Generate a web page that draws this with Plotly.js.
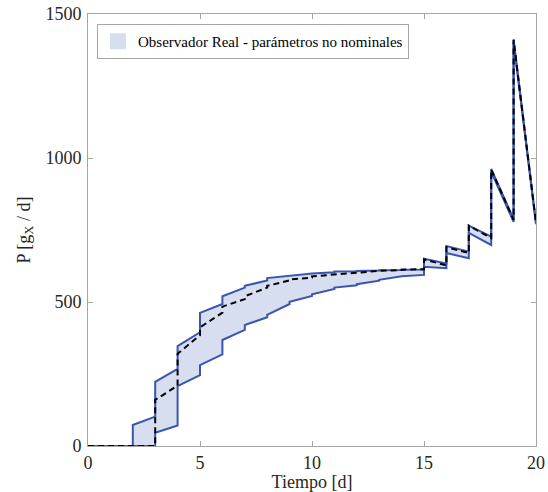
<!DOCTYPE html>
<html>
<head>
<meta charset="utf-8">
<script src="https://cdn.plot.ly/plotly-3.0.1.min.js"></script>
<style>html,body{margin:0;padding:0;background:#fff;}#chart{width:548px;height:492px;}</style>
</head>
<body>
<div id="chart"></div>
<script>
// Time points (duplicated at each day to draw the jumps)
const tiempo = [0, 2, 2, 3, 3, 4, 4, 5, 5, 6, 6, 7, 7, 8, 8, 9, 9, 10, 10, 11, 11, 12, 12, 13, 13, 14, 14, 15, 15, 16, 16, 17, 17, 18, 18, 19, 19, 20];
// Upper bound (real observer, non-nominal parameters)
const superior = [0, 0, 73, 102, 223, 268, 347, 395, 462, 493, 520, 550, 556, 575, 583, 590, 592, 597, 599, 603, 606, 607, 608, 609, 610, 611, 612, 613, 650, 634, 694, 675, 765, 727, 962, 788, 1412, 775];
// Lower bound
const inferior = [0, 0, 0, 0, 46, 71, 208, 246, 281, 318, 368, 403, 420, 447, 455, 493, 501, 521, 527, 545, 550, 558, 562, 574, 577, 588, 589, 594, 622, 617, 670, 652, 740, 698, 952, 778, 1402, 770];
// Nominal (dashed)
const nominal = [0, 0, 0, 0, 160, 210, 320, 385, 412, 463, 484, 510, 520, 550, 556, 575, 578, 585, 589, 595, 597, 601, 603, 607, 608, 611, 612, 614, 648, 627, 690, 670, 765, 722, 960, 785, 1410, 775];
const nombreLeyenda = 'Observador Real - parámetros no nominales';

const azul = '#3b55b0';
const relleno = 'rgb(214,222,240)';

const bandaX = tiempo.concat(tiempo.slice().reverse());
const bandaY = superior.concat(inferior.slice().reverse());

const traces = [
  {x: bandaX, y: bandaY, type: 'scatter', mode: 'lines', fill: 'toself', fillcolor: relleno,
   line: {width: 0, color: relleno}, showlegend: false, hoverinfo: 'skip'},
  {x: tiempo, y: superior, type: 'scatter', mode: 'lines', line: {color: azul, width: 2}, showlegend: false},
  {x: tiempo, y: inferior, type: 'scatter', mode: 'lines', line: {color: azul, width: 2}, showlegend: false},
  {x: tiempo, y: nominal, type: 'scatter', mode: 'lines', line: {color: '#000', width: 2, dash: '6px,4px'}, showlegend: false},
  // legend entry for the shaded band
  {x: [null], y: [null], type: 'scatter', mode: 'markers', name: nombreLeyenda,
   marker: {symbol: 'square', size: 16, color: relleno, line: {width: 0}}, showlegend: true}
];

const fontFam = '"Liberation Serif", "Times New Roman", serif';
const axisBase = {
  showline: true, mirror: 'ticks', linecolor: '#a6a6a6', linewidth: 1,
  ticks: 'inside', ticklen: 5, tickcolor: '#a6a6a6', showgrid: false, zeroline: false,
  tickfont: {family: fontFam, size: 18, color: '#262626'}
};

const layout = {
  width: 548, height: 492,
  margin: {l: 88, r: 12, t: 14, b: 46},
  paper_bgcolor: '#fff', plot_bgcolor: '#fff',
  showlegend: true,
  legend: {x: 0.02, y: 0.977, xanchor: 'left', yanchor: 'top', bgcolor: '#fff',
           bordercolor: '#a6a6a6', borderwidth: 1, itemwidth: 30,
           font: {family: fontFam, size: 15, color: '#000'}},
  xaxis: Object.assign({}, axisBase, {range: [0, 20], tickvals: [0, 5, 10, 15, 20],
           title: {text: 'Tiempo [d]', font: {family: fontFam, size: 18, color: '#262626'}, standoff: 0}}),
  yaxis: Object.assign({}, axisBase, {range: [0, 1500], tickvals: [0, 500, 1000, 1500], ticklabelstandoff: 2,
           title: {text: 'P [g<sub>X</sub> / d]', font: {family: fontFam, size: 18, color: '#262626'}, standoff: 10}})
};

Plotly.newPlot('chart', traces, layout, {displayModeBar: false, staticPlot: true});
</script>
</body>
</html>
